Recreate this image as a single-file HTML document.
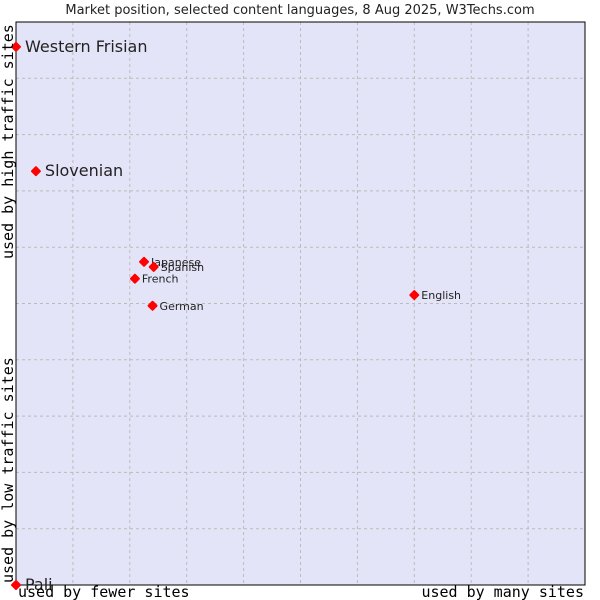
<!DOCTYPE html>
<html><head><meta charset="utf-8"><style>
body{margin:0;background:#fff;width:600px;height:600px;overflow:hidden}
svg{display:block}
</style></head><body>
<svg width="600" height="600">
<text x="300" y="14" text-anchor="middle" font-family="DejaVu Sans, sans-serif" font-size="13" fill="#222">Market position, selected content languages, 8 Aug 2025, W3Techs.com</text>
<rect x="16" y="22" width="569" height="563" fill="#e4e4f8"/>
<g id="grid"></g>
<rect x="16" y="22" width="569" height="563" fill="none" stroke="#000" stroke-width="1"/>
<g id="pts"></g>
<text x="18" y="597" font-family="DejaVu Sans Mono, monospace" font-size="15" fill="#000">used by fewer sites</text>
<text x="584" y="597" text-anchor="end" font-family="DejaVu Sans Mono, monospace" font-size="15" fill="#000">used by many sites</text>
<text transform="translate(13,583) rotate(-90)" font-family="DejaVu Sans Mono, monospace" font-size="15" fill="#000">used by low traffic sites</text>
<text transform="translate(13,259) rotate(-90)" font-family="DejaVu Sans Mono, monospace" font-size="15" fill="#000">used by high traffic sites</text>
</svg>
<script>
const languages=["Western Frisian","Slovenian","Japanese","Spanish","French","German","English","Pali"];
const siteShare=[0,0.35,2.25,2.42,2.09,2.40,7.0,0];
const trafficRank=[9.56,7.35,5.74,5.65,5.44,4.96,5.15,0];
const bigLabel=[true,true,false,false,false,false,false,true];
const X0=16,X1=585,Y0=585,Y1=22;
const xs=v=>X0+v*(X1-X0)/10;
const ys=v=>Y0-v*(Y0-Y1)/10;
const NS="http://www.w3.org/2000/svg";
const grid=document.getElementById('grid');
for(let i=1;i<10;i++){
 let l=document.createElementNS(NS,'line');
 
 
 l.setAttribute('x1',xs(i));l.setAttribute('x2',xs(i));l.setAttribute('y1',Y1);l.setAttribute('y2',Y0);
 l.setAttribute('stroke','#bbb');l.setAttribute('stroke-dasharray','3,3');grid.appendChild(l);
 let h=document.createElementNS(NS,'line');
 
 
 h.setAttribute('y1',ys(i));h.setAttribute('y2',ys(i));h.setAttribute('x1',X0);h.setAttribute('x2',X1);
 h.setAttribute('stroke','#bbb');h.setAttribute('stroke-dasharray','3,3');grid.appendChild(h);
}
const pts=document.getElementById('pts');
languages.forEach((n,i)=>{
 const cx=xs(siteShare[i]),cy=ys(trafficRank[i]);
 const c=document.createElementNS(NS,'path');
 
 
 c.setAttribute('d',`M${cx-4},${cy}L${cx},${cy-4}L${cx+4},${cy}L${cx},${cy+4}Z`);
 c.setAttribute('fill','#f00');c.setAttribute('stroke','#f00');c.setAttribute('stroke-width','2');c.setAttribute('stroke-linejoin','round');
 pts.appendChild(c);
 const t=document.createElementNS(NS,'text');
 
 
 const big=bigLabel[i];
 t.setAttribute('x',cx+(big?9:7));t.setAttribute('y',cy+(big?5:4));
 t.setAttribute('font-family','DejaVu Sans, sans-serif');
 t.setAttribute('font-size',big?16:11);
 t.setAttribute('fill','#222');
 t.textContent=n;pts.appendChild(t);
});
</script>
</body></html>
